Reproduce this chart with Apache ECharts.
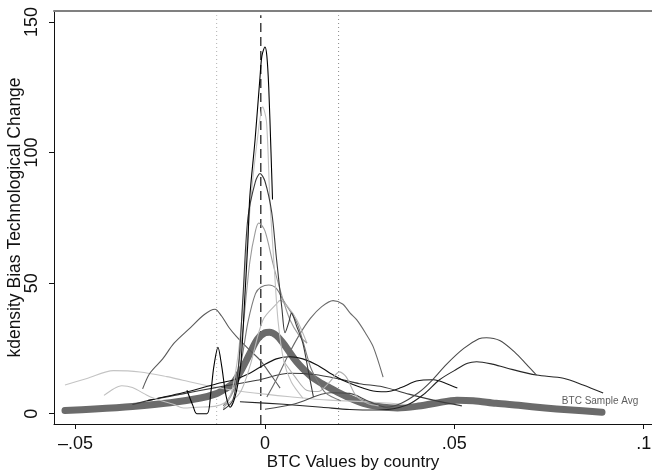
<!DOCTYPE html>
<html>
<head>
<meta charset="utf-8">
<script src="https://cdn.jsdelivr.net/npm/echarts@6/dist/echarts.min.js"></script>
<style>
  html, body { margin: 0; padding: 0; background: #fff; }
  #chart { width: 652px; height: 472px; }
</style>
</head>
<body>
<div id="chart"></div>
<script>
// axis ticks
const xTicks = [-0.05, 0, 0.05, 0.1];
const xTickLabels = ['–.05', '0', '.05', '.1'];
const yTicks = [0, 50, 100, 150];

// reference lines: dashed (sample mean) and two dotted bounds
const meanLine = [-0.0011];
const boundLines = [-0.01275, 0.01945];
const refLineSpan = [-3.94, 152.6];

// sample average density (thick line)
const sampleAvg = [[-0.0528,1.2],[-0.045,1.8],[-0.035,2.8],[-0.025,4.2],[-0.017,6],[-0.013,7.6],[-0.0105,9.5],
  [-0.0085,11.5],[-0.0065,16],[-0.004,23],[-0.002,28.5],[0,31],[0.0012,31.2],[0.003,30],[0.0048,27],[0.0075,21.5],
  [0.0092,18.5],[0.012,14.5],[0.0145,12],[0.017,10],[0.0205,7.3],[0.023,5.6],[0.026,4],[0.03,2.8],[0.035,2.2],
  [0.04,2.8],[0.045,4],[0.0507,5.2],[0.055,5],[0.061,4],[0.067,3.2],[0.074,2.2],[0.08,1.5],[0.089,0.6]];
const avgLabelPos = [[0.0784, 4.6]];

// country densities
const cSpike140 = [[-0.0206,9],[-0.019,3],[-0.018,0],[-0.0153,0],[-0.0143,8],[-0.0135,18],[-0.0124,25.4],[-0.0114,18],
  [-0.0103,7],[-0.0092,2.5],[-0.0082,5],[-0.0071,11.7],[-0.0063,20],[-0.0053,45],[-0.0045,66],[-0.004,83],
  [-0.0026,105],[-0.0013,129],[-0.0008,137],[0,140.4],[0.0005,137],[0.001,125],[0.0016,100],[0.002,82]];
const cSpike92 = [[-0.011,1.5],[-0.0085,5],[-0.007,18],[-0.0058,45],[-0.0045,75],[-0.0025,89],[-0.0013,92],[0,89],
  [0.0018,77],[0.003,60],[0.0045,40],[0.0053,31],[0.0063,35],[0.007,38.5],[0.0085,33],[0.01,27],[0.0115,16],[0.0128,6.4]];
const cSpike117 = [[-0.0425,7],[-0.04,9.5],[-0.0378,10.7],[-0.035,10],[-0.0302,6.4],[-0.024,3.5],[-0.0215,2.2],
  [-0.018,2.5],[-0.0127,3],[-0.01,5],[-0.0085,10],[-0.0065,30],[-0.005,60],[-0.0035,85.5],[-0.002,105],[-0.0006,117.5],
  [0.0004,112],[0.0013,82],[0.0025,55],[0.0035,35],[0.005,20],[0.007,12],[0.01,6]];
const cSpike73 = [[-0.011,2],[-0.008,10],[-0.006,30],[-0.004,58],[-0.0025,70],[-0.0016,73],[0,70],[0.0021,57.6],
  [0.0045,45],[0.0066,36],[0.009,30],[0.0111,27]];
const cFlat49 = [[-0.011,3],[-0.008,10],[-0.006,22],[-0.0045,35],[-0.0025,46],[-0.001,48.5],[0.001,49.3],[0.003,48],
  [0.0048,43.5],[0.0085,34.6],[0.012,18],[0.0137,13],[0.016,8],[0.02,5]];
const cPeak43 = [[-0.0105,3],[-0.0066,8],[-0.004,18],[-0.0005,36],[0.0032,42.3],[0.004,43.4],[0.006,41],[0.0084,36],[0.0111,27]];
const cHumpLeft = [[-0.0323,9.5],[-0.0304,15.5],[-0.027,21],[-0.024,27],[-0.0198,32.8],[-0.016,38],[-0.0132,40],
  [-0.0115,37.5],[-0.0095,33],[-0.0075,29.5],[-0.0045,25],[-0.0013,20.5],[0.0015,15],[0.004,9.8]];
const cHumpRight = [[0.0005,6.4],[0.003,13],[0.006,22],[0.009,30],[0.012,36.5],[0.015,41],[0.018,43.3],[0.0205,42],
  [0.0225,38.5],[0.0242,36],[0.0265,31],[0.0286,25.6],[0.0312,14]];
const cWideLeft = [[-0.0528,11],[-0.047,13.5],[-0.04,16.5],[-0.033,16],[-0.0259,14.2],[-0.0217,12.8],[-0.0145,10.5],
  [-0.0084,9],[0,7.5],[0.0066,6.5],[0.017,5.2],[0.028,4.5],[0.038,3.5]];
const cBroad22 = [[-0.031,5],[-0.0206,8.4],[-0.0127,11.5],[-0.0084,12.9],[-0.004,15.5],[-0.0005,18.5],[0.003,21],
  [0.0065,21.8],[0.01,21],[0.014,18.5],[0.0172,15.5],[0.021,12.5],[0.0277,9],[0.032,8.4],[0.036,10],[0.04,12.5],
  [0.0445,13],[0.048,11.5],[0.0508,9.8]];
const cBroad15 = [[-0.035,3.5],[-0.0304,5.2],[-0.022,7.5],[-0.013,10],[-0.0021,12.8],[0.0066,15.5],[0.013,15],
  [0.019,13.5],[0.025,11.5],[0.031,10.3],[0.038,7.5],[0.045,5],[0.052,3]];
const cBump16 = [[0.005,20],[0.008,14],[0.011,9],[0.014,8.5],[0.017,12],[0.0197,16],[0.0215,14],[0.024,7],[0.027,4],[0.03,3]];
const cPeak29 = [[0,1.7],[0.008,3.8],[0.0172,8],[0.0224,7.8],[0.027,5],[0.032,2.5],[0.036,4],[0.0405,8],[0.0436,12],
  [0.048,19],[0.0525,25],[0.0565,28.7],[0.0585,29.1],[0.062,28],[0.066,23.5],[0.069,19],[0.0717,14.8]];
const cPeak20 = [[-0.0066,4.6],[0.005,3.6],[0.015,2.5],[0.0224,1.6],[0.0304,1.4],[0.0375,3.3],[0.042,7.5],[0.046,12.9],
  [0.05,16.5],[0.0535,19.3],[0.0559,19.9],[0.06,19],[0.0638,17.5],[0.0717,14.8],[0.0788,13.6],[0.084,11],[0.0893,7.9]];

const curves = [
  { data: cWideLeft, color: '#c4c4c4' },
  { data: cBroad15, color: '#3c3c3c' },
  { data: cBroad22, color: '#111111' },
  { data: cPeak20, color: '#262626' },
  { data: cPeak29, color: '#4a4a4a' },
  { data: cBump16, color: '#b0b0b0' },
  { data: cHumpLeft, color: '#5a5a5a' },
  { data: cHumpRight, color: '#6a6a6a' },
  { data: cFlat49, color: '#7a7a7a' },
  { data: cPeak43, color: '#b8b8b8' },
  { data: cSpike73, color: '#9a9a9a' },
  { data: cSpike117, color: '#c0c0c0' },
  { data: cSpike92, color: '#3a3a3a' },
  { data: cSpike140, color: '#000000' }
];

const font = "'Liberation Sans', Arial, Helvetica, sans-serif";

function nearestLabel(v) {
  for (let i = 0; i < xTicks.length; i++) {
    if (Math.abs(xTicks[i] - v) < 1e-9) return xTickLabels[i];
  }
  return '';
}

function vline(v, style) {
  return {
    type: 'line',
    data: refLineSpan.map(y => [v, y]),
    symbol: 'none',
    silent: true,
    lineStyle: style,
    z: 1
  };
}

const series = [];
boundLines.forEach((v, i) => {
  series.push(vline(v, { color: i === 0 ? '#b0b0b0' : '#888', width: 1, type: [1, 3] }));
});
meanLine.forEach(v => {
  series.push(vline(v, { color: '#333', width: 1.4, type: [9, 5] }));
});

series.push({
  type: 'line',
  data: sampleAvg,
  symbol: 'none',
  smooth: 0.3,
  lineStyle: { color: '#6b6b6b', width: 7, cap: 'round', join: 'round' },
  z: 2
});

curves.forEach(c => {
  series.push({
    type: 'line',
    data: c.data,
    symbol: 'none',
    smooth: 0.3,
    lineStyle: { color: c.color, width: 1.1 },
    z: 3
  });
});

series.push({
  type: 'scatter',
  data: avgLabelPos,
  symbolSize: 0,
  z: 4,
  label: {
    show: true,
    position: 'right',
    distance: 0,
    formatter: 'BTC Sample Avg',
    fontFamily: font,
    fontSize: 10,
    color: '#333'
  }
});

const chart = echarts.init(document.getElementById('chart'), null, { renderer: 'canvas' });
chart.setOption({
  animation: false,
  backgroundColor: '#fff',
  textStyle: { fontFamily: font },
  grid: { left: 54, right: 0, top: 11, bottom: 48, containLabel: false, outerBoundsMode: 'none' },
  xAxis: [{
    type: 'value',
    min: -0.0557,
    max: 0.1022,
    name: 'BTC Values by country',
    nameLocation: 'middle',
    nameMoveOverlap: false,
    nameGap: 30,
    nameTextStyle: { fontSize: 17, color: '#111', fontFamily: font, verticalAlign: 'top' },
    splitLine: { show: false },
    axisLine: { show: true, onZero: false, lineStyle: { color: '#111', width: 1 } },
    axisTick: { show: true, length: 5, customValues: xTicks, lineStyle: { color: '#111' } },
    axisLabel: { customValues: xTicks, formatter: nearestLabel, fontSize: 18, color: '#111', margin: 11, fontFamily: font }
  }, {
    type: 'value',
    position: 'top',
    min: -0.0557,
    max: 0.1022,
    splitLine: { show: false },
    axisLine: { show: true, onZero: false, lineStyle: { color: '#808080', width: 2 } },
    axisTick: { show: false },
    axisLabel: { show: false }
  }],
  yAxis: {
    type: 'value',
    min: -3.94,
    max: 154.2,
    name: 'kdensity Bias Technological Change',
    nameLocation: 'middle',
    nameMoveOverlap: false,
    nameRotate: 90,
    nameGap: 30,
    nameTextStyle: { fontSize: 17.5, color: '#111', fontFamily: font },
    splitLine: { show: false },
    axisLine: { show: true, onZero: false, lineStyle: { color: '#111', width: 1 } },
    axisTick: { show: true, length: 5, customValues: yTicks, lineStyle: { color: '#111' } },
    axisLabel: { customValues: yTicks, rotate: 90, fontSize: 18, color: '#111', margin: 13, fontFamily: font }
  },
  series: series
});
</script>
</body>
</html>
